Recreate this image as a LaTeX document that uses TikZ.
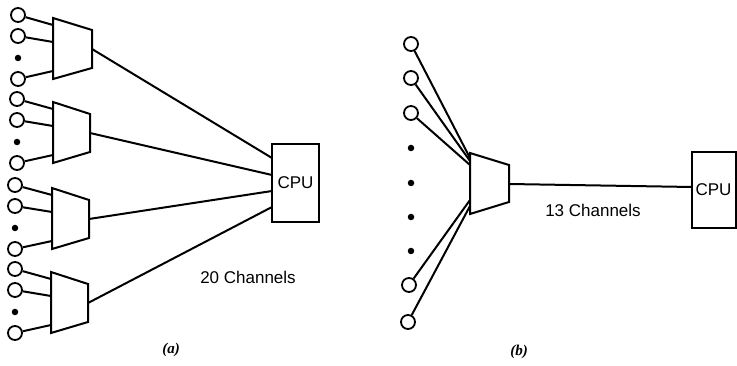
\documentclass[tikz,border=0pt]{standalone}
\usepackage{fontspec}
\setmainfont{Liberation Serif}
\setsansfont{Liberation Sans}
\begin{document}
\begin{tikzpicture}[x=1pt,y=-1pt,line width=2pt,line join=miter,
  io/.style={circle,draw,minimum size=14pt,inner sep=0pt,line width=1.8pt},
  dotn/.style={circle,fill,minimum size=6.5pt,inner sep=0pt},
  cpubox/.style={draw,rectangle,inner sep=0pt,font=\sffamily\fontsize{17}{19}\selectfont},
  lbl/.style={font=\sffamily\fontsize{17}{19}\selectfont},
  figlabel/.style={font=\itshape\bfseries\fontsize{15}{17}\selectfont}]
\useasboundingbox (0,0) rectangle (737,366);

% ---------- (a) ----------
\node[cpubox,minimum width=47pt,minimum height=78pt] (cpua) at (295.5,183) {CPU};
\coordinate (ca1) at (272,158);
\coordinate (ca2) at (272,175);
\coordinate (ca3) at (272,191);
\coordinate (ca4) at (272,207);

\foreach \g/\cx/\lx/\rx [count=\i] in {15/18/53/92, 99/17/53/90, 185/15/52/89, 269/15/51/88} {
  \node[io] (a\i x1) at (\cx,\g) {};
  \node[io] (a\i x2) at (\cx,\g+21) {};
  \node[dotn] (ad\i) at (\cx,\g+43) {};
  \node[io] (a\i x3) at (\cx,\g+64) {};
  \coordinate (m\i tl) at (\lx,\g+3);
  \coordinate (m\i bl) at (\lx,\g+64);
  \coordinate (m\i tr) at (\rx,\g+15);
  \coordinate (m\i br) at (\rx,\g+53);
  \coordinate (mi\i x1) at (\lx,\g+10);
  \coordinate (mi\i x2) at (\lx,\g+27);
  \coordinate (mi\i x3) at (\lx,\g+56);
  \coordinate (mo\i) at (\rx,\g+34);
  \draw (m\i tl) -- (m\i tr) -- (m\i br) -- (m\i bl) -- cycle;
  \draw (a\i x1) -- (mi\i x1);
  \draw (a\i x2) -- (mi\i x2);
  \draw (a\i x3) -- (mi\i x3);
  \draw (mo\i) -- (ca\i);
}
\node[lbl] (cha) at (248,277) {20 Channels};
\node[figlabel] (capa) at (171,350) {(a)};

% ---------- (b) ----------
\node[io] (b1) at (411,44) {};
\node[io] (b2) at (411,78) {};
\node[io] (b3) at (411,113) {};
\node[dotn] (bd1) at (411,148) {};
\node[dotn] (bd2) at (411,183) {};
\node[dotn] (bd3) at (411,217) {};
\node[dotn] (bd4) at (411,251) {};
\node[io] (b4) at (409,285) {};
\node[io] (b5) at (408,322) {};

\coordinate (mbtl) at (470,153);
\coordinate (mbtr) at (509,165);
\coordinate (mbbr) at (509,202);
\coordinate (mbbl) at (470,214);
\draw (mbtl) -- (mbtr) -- (mbbr) -- (mbbl) -- cycle;
\coordinate (bi1) at (470,158);
\coordinate (bi2) at (470,161);
\coordinate (bi3) at (470,165);
\coordinate (bi4) at (470,200);
\coordinate (bi5) at (470,206);
\draw (b1) -- (bi1);
\draw (b2) -- (bi2);
\draw (b3) -- (bi3);
\draw (b4) -- (bi4);
\draw (b5) -- (bi5);

\node[cpubox,minimum width=44pt,minimum height=76pt] (cpub) at (713.5,190) {CPU};
\coordinate (mbo) at (509,184);
\coordinate (cbi) at (692,187);
\draw (mbo) -- (cbi);
\node[lbl] (chb) at (593,210) {13 Channels};
\node[figlabel] (capb) at (519,352) {(b)};
\end{tikzpicture}
\end{document}
